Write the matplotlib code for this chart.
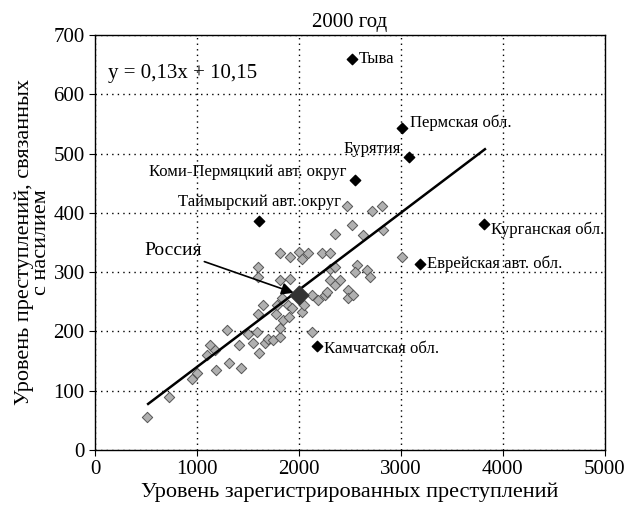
import matplotlib
matplotlib.use("Agg")
import matplotlib.pyplot as plt
import numpy as np

plt.rcParams["font.family"] = "Liberation Serif"

# regions (gray markers)
reg_x = [507, 725, 948, 997, 1095, 1127, 1176, 1186, 1291, 1317, 1428, 1415, 1497, 1546,
         1585, 1611, 1601, 1650, 1667, 1699, 1748, 1775, 1781, 1814, 1814, 1830, 1840,
         1814, 1912, 1601, 1601, 1895, 1905, 1928, 2026, 2049, 2125, 2125, 2189, 2255,
         2272, 2304, 2353, 2304, 2353, 2402, 2483, 2483, 2532, 2566, 2549, 2664, 2696,
         1814, 1912, 2003, 2026, 2091, 2223, 2304, 2353, 2517, 2630, 2468, 2713, 2811,
         2826, 3007]
reg_y = [56, 89, 120, 130, 160, 177, 169, 135, 202, 147, 139, 177, 196, 181,
         199, 163, 230, 244, 181, 188, 185, 230, 244, 191, 205, 256, 219,
         287, 289, 292, 309, 244, 225, 239, 233, 244, 261, 199, 253, 261,
         267, 287, 278, 306, 309, 287, 270, 256, 261, 312, 301, 303, 292,
         332, 326, 334, 322, 333, 332, 332, 365, 379, 362, 411, 403, 411,
         371, 326]

# highlighted regions
hl_names = ["Тыва", "Пермская обл.", "Бурятия", "Коми-Пермяцкий авт. округ",
            "Таймырский авт. округ", "Курганская обл.", "Еврейская авт. обл.",
            "Камчатская обл."]
hl_x = [2520, 3010, 3078, 2549, 1608, 3814, 3186, 2176]
hl_y = [659, 543, 494, 455, 386, 381, 314, 175]
# label offsets (points), alignment
hl_off = [(5, 0, "left"), (6, 4, "left"), (-6, 6, "right"), (-6, 6, "right"),
          (0, 14, "center"), (5, -4, "left"), (5, 0, "left"), (5, -2, "left")]

russia = (2000, 262)
slope, intercept = 0.13, 10.15
fit_x = np.array([520, 3824])

fig = plt.figure(figsize=(6.3, 5.14), dpi=100)
ax = fig.add_axes([0.151, 0.1245, 0.809, 0.8075])

ax.scatter(reg_x, reg_y, marker="D", s=28, facecolor="#b0b0b0", edgecolor="#555555",
           linewidth=0.7, zorder=3)
ax.plot(fit_x, slope * fit_x + intercept, color="black", lw=1.8, zorder=4)
ax.scatter(hl_x, hl_y, marker="D", s=28, color="black", zorder=5)
for n, x, y, (dx, dy, ha) in zip(hl_names, hl_x, hl_y, hl_off):
    ax.annotate(n, (x, y), xytext=(dx, dy), textcoords="offset points",
                ha=ha, va="center", fontsize=12)

ax.scatter([russia[0]], [russia[1]], marker="D", s=90, color="#333333", zorder=6)
ax.annotate("Россия", russia, xytext=(480, 322), fontsize=14, ha="left", va="bottom",
            arrowprops=dict(arrowstyle="-|>", color="black", lw=1.2,
                            mutation_scale=18, shrinkA=0, shrinkB=4))

ax.text(130, 635, "y = 0,13x + 10,15", fontsize=15, va="center")

ax.set_xlim(0, 5000)
ax.set_ylim(0, 700)
ax.set_xticks(range(0, 5001, 1000))
ax.set_yticks(range(0, 701, 100))
ax.grid(True, color="black", linestyle=(0, (1, 3)), lw=1)
ax.tick_params(labelsize=15, direction="out", length=4)
for s in ax.spines.values():
    s.set_linewidth(1)
ax.set_xlabel("Уровень зарегистрированных преступлений", fontsize=16, labelpad=2)
ax.set_ylabel("Уровень преступлений, связанных\nс насилием", fontsize=16,
              linespacing=0.8, labelpad=2)
ax.set_title("2000 год", fontsize=15, pad=6)

fig.savefig("out.png", dpi=100)
